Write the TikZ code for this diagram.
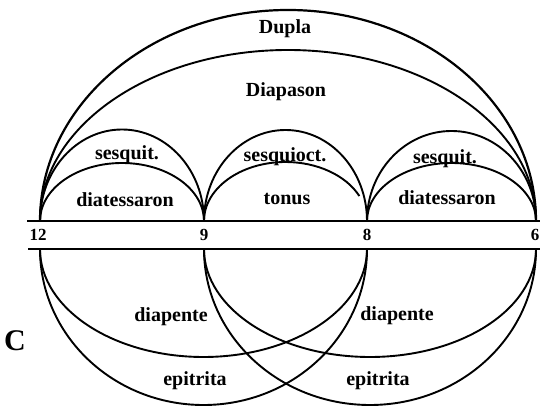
\documentclass[tikz,border=0pt]{standalone}
\usepackage{fontspec}
\setmainfont{Liberation Serif}
\tikzset{
  arco/.style={line width=1.9pt},
  banda/.style={line width=1.6pt},
  etichetta/.style={font=\bfseries\fontsize{20}{20}\selectfont, inner sep=0pt},
  numero/.style={font=\bfseries\fontsize{17}{17}\selectfont, inner sep=0pt},
}
\begin{document}
\begin{tikzpicture}[x=1pt,y=1pt]
        \fill[white] (0,0) rectangle (540,406);
        \useasboundingbox (0,0) rectangle (540,406);
        %punti sulla banda
        \coordinate (t12) at (40,185);
        \coordinate (t9) at (204,185);
        \coordinate (t8) at (367,185);
        \coordinate (t6) at (536,185);
        \coordinate (b12) at (40,157);
        \coordinate (b9) at (204,157);
        \coordinate (b8) at (367,157);
        \coordinate (b6) at (536,157);
        %banda
        \coordinate (ts) at (27,185);
        \coordinate (te) at (540,185);
        \coordinate (bs) at (28,157);
        \coordinate (be) at (540,157);
        \draw[banda] (ts) -- (te);
        \draw[banda] (bs) -- (be);
        %numeri
        \node[numero] (n12) at (38,171) {12};
        \node[numero] (n9) at (204,171) {9};
        \node[numero] (n8) at (367,171) {8};
        \node[numero] (n6) at (535,171) {6};
        %archi superiori
        \draw[arco] (t12) arc[start angle=180, end angle=0, x radius=82, y radius=91.5];
        \draw[arco] (t12) arc[start angle=180, end angle=0, x radius=82, y radius=58];
        \draw[arco] (t9) arc[start angle=180, end angle=0, x radius=81.5, y radius=91];
        \draw[arco] (t9) arc[start angle=180, end angle=25, x radius=81.5, y radius=59];
        \draw[arco] (t8) arc[start angle=180, end angle=0, x radius=84.5, y radius=90];
        \draw[arco] (t8) arc[start angle=180, end angle=0, x radius=84.5, y radius=58];
        \draw[arco] (t12) arc[start angle=180, end angle=0, x radius=248, y radius=171];
        \draw[arco, line width=2.2pt] (t12) arc[start angle=180, end angle=0, x radius=248, y radius=211];
        %archi inferiori
        \draw[arco] (b12) arc[start angle=180, end angle=360, x radius=163.5, y radius=108];
        \draw[arco] (b12) arc[start angle=180, end angle=360, x radius=163.5, y radius=156];
        \draw[arco] (b9) arc[start angle=180, end angle=360, x radius=166, y radius=108];
        \draw[arco] (b9) arc[start angle=180, end angle=360, x radius=166, y radius=156];
        %etichette
        \node[etichetta] (dupla) at (285,377) {Dupla};
        \node[etichetta] (diapason) at (286,314) {Diapason};
        \node[etichetta] (sesq1) at (127,251) {sesquit.};
        \node[etichetta] (diat1) at (125,206) {diatessaron};
        \node[etichetta] (sesq2) at (285,249) {sesquioct.};
        \node[etichetta] (tonus) at (287,207) {tonus};
        \node[etichetta] (sesq3) at (445,247) {sesquit.};
        \node[etichetta] (diat2) at (447,208) {diatessaron};
        \node[etichetta] (diap1) at (171,89) {diapente};
        \node[etichetta] (diap2) at (397,90) {diapente};
        \node[etichetta] (epit1) at (195,25) {epitrita};
        \node[etichetta] (epit2) at (378,25) {epitrita};
        \node[font=\bfseries\fontsize{30}{30}\selectfont, inner sep=0pt] (lettera) at (15,65) {C};
\end{tikzpicture}
\end{document}
